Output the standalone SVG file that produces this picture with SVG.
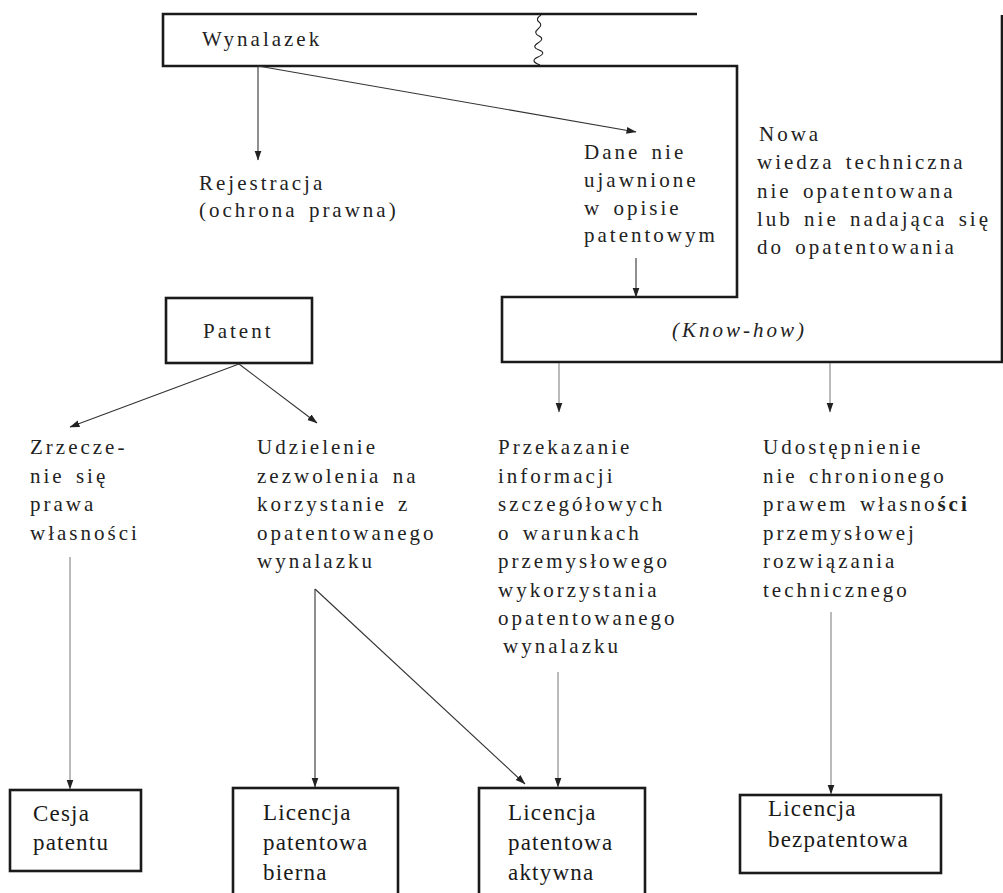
<svg xmlns="http://www.w3.org/2000/svg" width="1003" height="893" viewBox="0 0 1003 893">
<style>
.bg{fill:#fff}
.box{fill:none;stroke:#1a1a1a;stroke-width:2.6}
.t{font-family:"Liberation Serif","DejaVu Serif",serif;font-size:21px;letter-spacing:3px;word-spacing:3px;fill:#222}
.tb{font-family:"Liberation Serif","DejaVu Serif",serif;font-size:23px;letter-spacing:1.2px;fill:#1a1a1a}
.c{fill:none;stroke:#333;stroke-width:1.1}
.cl{fill:none;stroke:#777;stroke-width:1}
</style>
<defs>
<marker id="ah" markerWidth="10" markerHeight="8" refX="9.5" refY="4" orient="auto" markerUnits="userSpaceOnUse">
<path d="M0,0.5 L10,4 L0,7.5 z" fill="#222"/>
</marker>
</defs>
<rect class="bg" x="0" y="0" width="1003" height="893"/>

<g id="outline">
<path class="box" d="M697,14 H163 V66 H737 V297 H502 V362 H1002 V15"/>
<path fill="none" stroke="#222" stroke-width="1.1" d="M541,15 q-6,4 -2,7 t-1,7 t1,7 t-1,7 t1,7 t-1,7 t2,8"/>
</g>

<g id="wynalazek">
<text class="t" x="202" y="46" style="letter-spacing:3px">Wynalazek</text>
</g>

<g id="knowhow">
<text class="t" x="672" y="337" style="font-style:italic">(Know-how)</text>
</g>

<g id="nowa">
<text class="t" x="759" y="141">Nowa</text>
<text class="t" x="757" y="169">wiedza techniczna</text>
<text class="t" x="757" y="198">nie opatentowana</text>
<text class="t" x="757" y="226">lub nie nadająca się</text>
<text class="t" x="757" y="254">do opatentowania</text>
</g>

<g id="rejestracja">
<text class="t" x="199" y="190">Rejestracja</text>
<text class="t" x="199" y="217">(ochrona prawna)</text>
</g>

<g id="dane">
<text class="t" x="584" y="159">Dane nie</text>
<text class="t" x="584" y="187">ujawnione</text>
<text class="t" x="584" y="215">w opisie</text>
<text class="t" x="584" y="242">patentowym</text>
</g>

<g id="patent">
<rect class="box" x="166" y="298" width="146" height="65"/>
<text class="t" x="203" y="338">Patent</text>
</g>

<g id="zrzeczenie">
<text class="t" x="30" y="454">Zrzecze-</text>
<text class="t" x="30" y="483">nie się</text>
<text class="t" x="30" y="511">prawa</text>
<text class="t" x="30" y="540">własności</text>
</g>

<g id="udzielenie">
<text class="t" x="257" y="454">Udzielenie</text>
<text class="t" x="257" y="483">zezwolenia na</text>
<text class="t" x="257" y="511">korzystanie z</text>
<text class="t" x="257" y="540">opatentowanego</text>
<text class="t" x="257" y="568">wynalazku</text>
</g>

<g id="przekazanie">
<text class="t" x="498" y="454">Przekazanie</text>
<text class="t" x="498" y="483">informacji</text>
<text class="t" x="498" y="511">szczegółowych</text>
<text class="t" x="498" y="540">o warunkach</text>
<text class="t" x="498" y="568">przemysłowego</text>
<text class="t" x="498" y="597">wykorzystania</text>
<text class="t" x="498" y="625">opatentowanego</text>
<text class="t" x="503" y="653">wynalazku</text>
</g>

<g id="udostepnienie">
<text class="t" x="763" y="454">Udostępnienie</text>
<text class="t" x="763" y="483">nie chronionego</text>
<text class="t" x="763" y="511">prawem własno<tspan font-weight="bold">ści</tspan></text>
<text class="t" x="763" y="540">przemysłowej</text>
<text class="t" x="763" y="568">rozwiązania</text>
<text class="t" x="763" y="597">technicznego</text>
</g>

<g id="cesja">
<rect class="box" x="10" y="790" width="131" height="81"/>
<text class="tb" x="33" y="821">Cesja</text>
<text class="tb" x="33" y="850">patentu</text>
</g>

<g id="bierna">
<rect class="box" x="233" y="788" width="165" height="120"/>
<text class="tb" x="263" y="820">Licencja</text>
<text class="tb" x="263" y="850">patentowa</text>
<text class="tb" x="263" y="880">bierna</text>
</g>

<g id="aktywna">
<rect class="box" x="479" y="788" width="166" height="120"/>
<text class="tb" x="508" y="820">Licencja</text>
<text class="tb" x="508" y="850">patentowa</text>
<text class="tb" x="508" y="880">aktywna</text>
</g>

<g id="bezpatentowa">
<rect class="box" x="740" y="795" width="201" height="78"/>
<text class="tb" x="768" y="816">Licencja</text>
<text class="tb" x="768" y="847">bezpatentowa</text>
</g>

<g id="connectors">
<path class="c" d="M258,66 V160" marker-end="url(#ah)"/>
<path class="c" d="M258,66 L636,132" marker-end="url(#ah)"/>
<path class="c" d="M636,258 V297" marker-end="url(#ah)"/>
<path class="c" d="M239,364 L70,427" marker-end="url(#ah)"/>
<path class="c" d="M239,364 L317,423" marker-end="url(#ah)"/>
<path class="cl" d="M559,363 V412" marker-end="url(#ah)"/>
<path class="cl" d="M830,363 V412" marker-end="url(#ah)"/>
<path class="cl" d="M70,557 V789" marker-end="url(#ah)"/>
<path class="c" d="M315,589 V787" marker-end="url(#ah)"/>
<path class="c" d="M315,589 L525,784" marker-end="url(#ah)"/>
<path class="cl" d="M558,672 V787" marker-end="url(#ah)"/>
<path class="cl" d="M831,612 V794" marker-end="url(#ah)"/>
</g>
</svg>
